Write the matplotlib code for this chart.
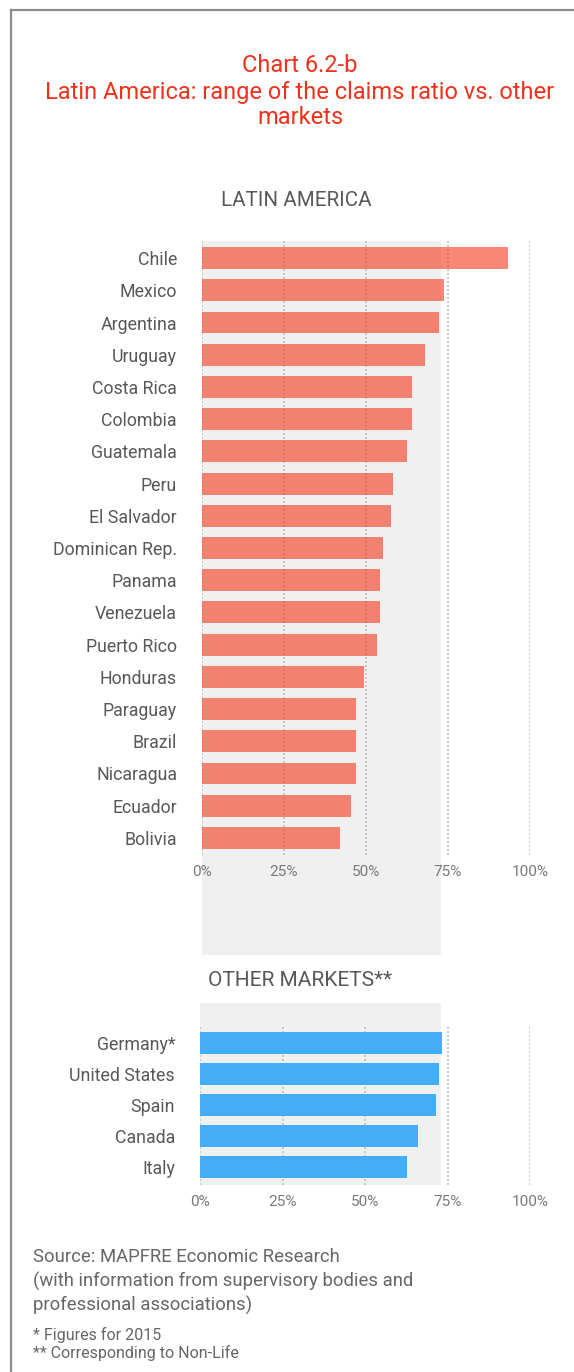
import matplotlib
matplotlib.use("Agg")
import matplotlib.pyplot as plt
from matplotlib.lines import Line2D

# ---- data ----
latam_countries = ["Chile", "Mexico", "Argentina", "Uruguay", "Costa Rica", "Colombia",
                   "Guatemala", "Peru", "El Salvador", "Dominican Rep.", "Panama",
                   "Venezuela", "Puerto Rico", "Honduras", "Paraguay", "Brazil",
                   "Nicaragua", "Ecuador", "Bolivia"]
latam_values = [93.3, 73.8, 72.3, 68.0, 64.0, 64.0, 62.5, 58.2, 57.6, 55.2, 54.3,
                54.3, 53.4, 49.4, 47.0, 47.0, 47.0, 45.4, 42.1]
other_countries = ["Germany*", "United States", "Spain", "Canada", "Italy"]
other_values = [73.3, 72.4, 71.5, 66.1, 62.7]
tick_values = [0, 25, 50, 75, 100]
tick_labels = ["0%", "25%", "50%", "75%", "100%"]
band_max = 73.0

W, H = 574, 1372
fig = plt.figure(figsize=(W / 100, H / 100), dpi=100)
plt.rcParams['font.family'] = ['Roboto', 'DejaVu Sans']

TXT = "#585858"
TICK = "#7a7a7a"
RED = "#ee321c"
GRAY_BG = "#f0f0f0"


def fx(px):
    return px / W


def fy(py):
    return 1 - py / H


# frame lines
fig.add_artist(Line2D([fx(11), fx(11)], [fy(10), fy(H)], color="#8c8c8c", lw=1.6))
fig.add_artist(Line2D([fx(11), fx(W)], [fy(10), fy(10)], color="#8c8c8c", lw=1.6))

# title
fig.text(fx(300), fy(66), "Chart 6.2-b", ha="center", va="center", color=RED, fontsize=17)
fig.text(fx(300), fy(92), "Latin America: range of the claims ratio vs. other", ha="center",
         va="center", color=RED, fontsize=17)
fig.text(fx(300), fy(117), "markets", ha="center", va="center", color=RED, fontsize=17)

fig.text(fx(296), fy(201), "LATIN AMERICA", ha="center", va="center", color=TXT, fontsize=14.8)
fig.text(fx(300), fy(981), "OTHER MARKETS**", ha="center", va="center", color=TXT, fontsize=15)


def setup(ax, cats, vals, color, alpha, band_ymin, band_ymax, ypad):
    n = len(cats)
    ax.set_xlim(0, 100)
    ax.set_ylim(n - 1 + ypad, -ypad)
    ax.axvspan(0, band_max, ymin=band_ymin, ymax=band_ymax, color=GRAY_BG,
               clip_on=False, zorder=0, lw=0)
    for t in tick_values:
        ax.axvline(t, color="#c0c0c0", lw=1.2, ls=(0, (1.2, 1.2)), zorder=1)
    ax.barh(range(n), vals, height=0.68, color=color, alpha=alpha, zorder=2, lw=0)
    ax.set_yticks(range(n))
    ax.set_yticklabels(cats, fontsize=12.8, color=TXT)
    ax.set_xticks(tick_values)
    ax.set_xticklabels(tick_labels, fontsize=11.1, color=TICK)
    ax.tick_params(axis="y", length=0, pad=18)
    ax.tick_params(axis="x", length=0, pad=7)
    for s in ax.spines.values():
        s.set_visible(False)
    ax.patch.set_alpha(0)


ax1 = fig.add_axes([fx(202), fy(855), fx(530) - fx(202), fy(241) - fy(855)])
setup(ax1, latam_countries, latam_values, (245 / 255, 55 / 255, 25 / 255), 0.6,
      -(955 - 855) / (855 - 241), 1.0, 0.53)

ax2 = fig.add_axes([fx(200), fy(1185), fx(530) - fx(200), fy(1025) - fy(1185)])
setup(ax2, other_countries, other_values, "#43aef7", 1.0,
      0.0, 1 + (1025 - 1003) / (1185 - 1025), 0.58)

# source
SRC = "#666666"
fig.text(fx(33), fy(1257), "Source: MAPFRE Economic Research", ha="left", va="center",
         color=SRC, fontsize=13.3)
fig.text(fx(33), fy(1281), "(with information from supervisory bodies and", ha="left",
         va="center", color=SRC, fontsize=13.3)
fig.text(fx(33), fy(1305), "professional associations)", ha="left", va="center",
         color=SRC, fontsize=13.3)
fig.text(fx(33), fy(1335), "* Figures for 2015", ha="left", va="center",
         color=SRC, fontsize=11.5)
fig.text(fx(33), fy(1353), "** Corresponding to Non-Life", ha="left", va="center",
         color=SRC, fontsize=11.5)

fig.savefig("out.png", dpi=100, facecolor="white")
